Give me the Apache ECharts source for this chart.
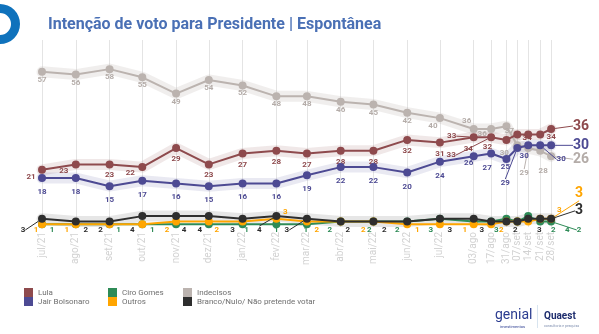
<!DOCTYPE html>
<html><head><meta charset="utf-8">
<script src="https://cdn.jsdelivr.net/npm/echarts@6/dist/echarts.min.js"></script>
<style>html,body{margin:0;padding:0;background:#fff}#c{width:599px;height:334px}</style>
</head><body><div id="c"></div>
<script>
// ---- data ----
const categories = ['jul/21','ago/21','set/21','out/21','nov/21','dez/21','jan/22','fev/22','mar/22','abr/22','mai/22','jun/22','jul/22','03/ago','17/ago','31/ago','07/set','14/set','21/set','28/set'];
const pollDates = ['2021-07-01','2021-08-01','2021-09-01','2021-10-01','2021-11-01','2021-12-01','2022-01-01','2022-02-01','2022-03-01','2022-04-01','2022-05-01','2022-06-01','2022-07-01','2022-08-01','2022-08-17','2022-08-31','2022-09-10','2022-09-20','2022-10-01','2022-10-11'];
const indecisos  = [57,56,58,55,49,54,52,48,48,46,45,42,40,36,36,37,30,29,28,26];
const lula       = [21,23,23,22,29,23,27,28,27,28,28,32,31,33,33,32,34,34,34,36];
const bolsonaro  = [18,18,15,17,16,15,16,16,19,22,22,20,24,26,27,25,29,30,30,30];
const ciro       = [1,1,1,1,1,1,1,1,1,2,2,2,3,2,2,3,2,4,2,2];
const outros     = [1,1,1,1,2,2,2,3,2,2,2,1,1,1,1,2,2,2,3,3];
const brancoNulo = [3,2,2,4,4,4,3,4,3,2,2,2,3,3,2,2,2,3,3,3];

// ---- layout / style ----
const GRID = {left:42, right:25, top:40, bottom:107};
const Y_MAX = 68.7;
const ZERO_Y = 334 - GRID.bottom;
const DAY = 86400000;
const ts = d => { const p = d.split('-').map(Number); return Date.UTC(p[0], p[1]-1, p[2]) / DAY; };
const xs = pollDates.map(ts);
const labelOf = {}; xs.forEach((x,i)=>labelOf[x]=categories[i]);

const COL = {lula:'#8e4a4d', bolso:'#4d4a93', ciro:'#2e8b57', outros:'#ffa500', ind:'#bbb3af', bn:'#2e2e2e'};

function band(values, color, opacity) {
  return {
    type:'line', name:'_band', data: values.map((v,i)=>[xs[i], v]),
    symbol:'none', silent:true, z:1,
    lineStyle:{color, width:11, opacity, cap:'round', join:'round'}
  };
}

function mk(name, values, color, cfg) {
  const data = values.map((v,i)=>{
    const item = {value:[xs[i], v]};
    const s = cfg.specs[i];
    if (cfg.hideDefault && !s) item.label = {show:false};
    if (s && s.line) item.labelLine = {show:true};
    if (s && s.big) item.label = {fontSize:14, fontWeight:'bold'};
    return item;
  });
  return {
    name, type:'line', data, z:cfg.z,
    symbol:'circle', symbolSize:8,
    lineStyle:{color, width:2}, itemStyle:{color},
    label:{show:true, position:'bottom', fontSize:8, fontWeight:cfg.fw||'bold', fontFamily:'Roboto', color:cfg.labelColor||color},
    labelLine:{show:false, lineStyle:{color, width:1}},
    labelLayout: p => {
      const s = cfg.specs[p.dataIndex];
      const cx = p.rect.x + p.rect.width/2, cy = p.rect.y + p.rect.height/2;
      let dx = 0, dy = cfg.defDy, y;
      if (s) { dx = s.dx||0; if (s.dy!=null) dy = s.dy; }
      y = cy + dy;
      if (cfg.fixedY && !(s && s.dy!=null)) y = ZERO_Y + 3;
      return {x: cx+dx, y, align:'center', verticalAlign:'middle'};
    }
  };
}

const grayS = {12:{dx:-7},13:{dx:-7,dy:-8},14:{dx:-9,dy:5},15:{dx:3,dy:5},16:{dx:-13},17:{dx:-4,dy:25,line:1},18:{dx:3,dy:20},19:{dx:30,dy:3,line:1,big:1}};
const lulaS = {0:{dx:-11,dy:7},1:{dx:-12,dy:7},3:{dx:-12,dy:6},13:{dx:-22,dy:-1,line:1},14:{dx:-40,dy:18,line:1},15:{dx:-19,dy:7},16:{dx:-49,dy:15},17:{dx:-1,dy:4},18:{dx:11,dy:3},19:{dx:30,dy:-3,line:1,big:1}};
const blueS = {13:{dx:-5,dy:7},14:{dx:-4,dy:14},15:{dx:-1,dy:8},16:{dx:-12,dy:35,line:1},17:{dx:-4,dy:11},18:{dx:21,dy:14,line:1},19:{dx:30,dy:0,line:1,big:1}};
const blackS = {0:{dx:-19,line:1},1:{dx:10},2:{dx:-9},3:{dx:-10},4:{dx:8},5:{dx:-9},6:{dx:-10},7:{dx:-17,line:1},8:{dx:-20,line:1},9:{dx:7},10:{dx:11},12:{dx:10},13:{dx:8},16:{dx:-2},18:{dx:-1},19:{dx:28,dy:-8,line:1,big:1}};
const orangeS = {0:{dx:-6},1:{dx:-9},4:{dx:-9},5:{dx:8},7:{dx:9,dy:-7},8:{dx:10},10:{dx:-10},11:{dx:10},13:{dx:-9},15:{dx:-5},18:{dx:19,dy:-9},19:{dx:28,dy:-25,line:1,big:1}};
const greenS = {0:{dx:10},2:{dx:9},3:{dx:10},6:{dx:4},7:{dx:0},8:{dx:-1},9:{dx:-11},10:{dx:-4},11:{dx:-10},12:{dx:-9},15:{dx:-10},17:{dx:39},18:{dx:13},19:{dx:28,line:1}};

const chart = echarts.init(document.getElementById('c'), null, {renderer:'canvas'});
const legendBase = {orient:'vertical', icon:'rect', itemWidth:9, itemHeight:9, itemGap:0, padding:0, selectedMode:false,
  textStyle:{fontSize:8, color:'#6f6f6f', fontFamily:'Roboto'}};

chart.setOption({
  animation:false,
  backgroundColor:'#fff',
  title:{text:'Intenção de voto para Presidente | Espontânea', left:43, top:12,
    textStyle:{fontFamily:'Roboto', fontSize:16, fontWeight:'bold', color:'#4a70b5'}},
  grid: GRID,
  legend:[
    Object.assign({}, legendBase, {left:24, top:288, data:['Lula','Jair Bolsonaro']}),
    Object.assign({}, legendBase, {left:108, top:288, data:['Ciro Gomes','Outros']}),
    Object.assign({}, legendBase, {left:183, top:288, data:['Indecisos','Branco/Nulo/ Não pretende votar']})
  ],
  xAxis:{type:'value', min:xs[0], max:ts('2022-11-01'),
    axisLine:{show:false}, axisTick:{show:false, customValues:xs},
    splitLine:{show:true, lineStyle:{color:'#e4e4e4', width:1}},
    axisLabel:{customValues:xs, rotate:90, fontSize:10, color:'#d2d2d2', margin:5, fontFamily:'Roboto',
      formatter: v => labelOf[v] || ''}
  },
  yAxis:{type:'value', min:0, max:Y_MAX, show:false, splitLine:{show:false}},
  series:[
    band(indecisos, COL.ind, 0.22),
    band(lula, COL.lula, 0.13),
    band(bolsonaro, COL.bolso, 0.12),
    band(brancoNulo, COL.bn, 0.12),
    mk('Indecisos', indecisos, COL.ind, {specs:grayS, defDy:8, z:3, fw:'bold', labelColor:'#b4aca8'}),
    mk('Lula', lula, COL.lula, {specs:lulaS, defDy:11, z:4}),
    mk('Jair Bolsonaro', bolsonaro, COL.bolso, {specs:blueS, defDy:14, z:5}),
    mk('Ciro Gomes', ciro, COL.ciro, {specs:greenS, defDy:8, z:6, hideDefault:true, fixedY:true}),
    mk('Outros', outros, COL.outros, {specs:orangeS, defDy:8, z:7, hideDefault:true, fixedY:true}),
    mk('Branco/Nulo/ Não pretende votar', brancoNulo, COL.bn, {specs:blackS, defDy:8, z:8, hideDefault:true, fixedY:true})
  ],
  graphic:[
    {type:'ring', shape:{cx:0, cy:24, r:20, r0:11}, style:{fill:'#0f72bc'}},
    {type:'text', left:495, top:308, style:{text:'genial', fontSize:14, fontFamily:'Roboto', fill:'#2b3c90'}},
    {type:'text', left:500, top:325, style:{text:'investimentos', fontSize:4, fontFamily:'Roboto', fill:'#2b3c90'}},
    {type:'rect', shape:{x:537, y:305, width:1, height:23}, style:{fill:'#d8e4ef'}},
    {type:'text', left:544, top:311, style:{text:'Quaest', fontSize:10, fontWeight:'bold', fontFamily:'Roboto', fill:'#1e2d6e'}},
    {type:'text', left:544, top:324, style:{text:'consultoria e pesquisa', fontSize:3.5, fontFamily:'Roboto', fill:'#8090b0'}}
  ]
});
</script></body></html>
